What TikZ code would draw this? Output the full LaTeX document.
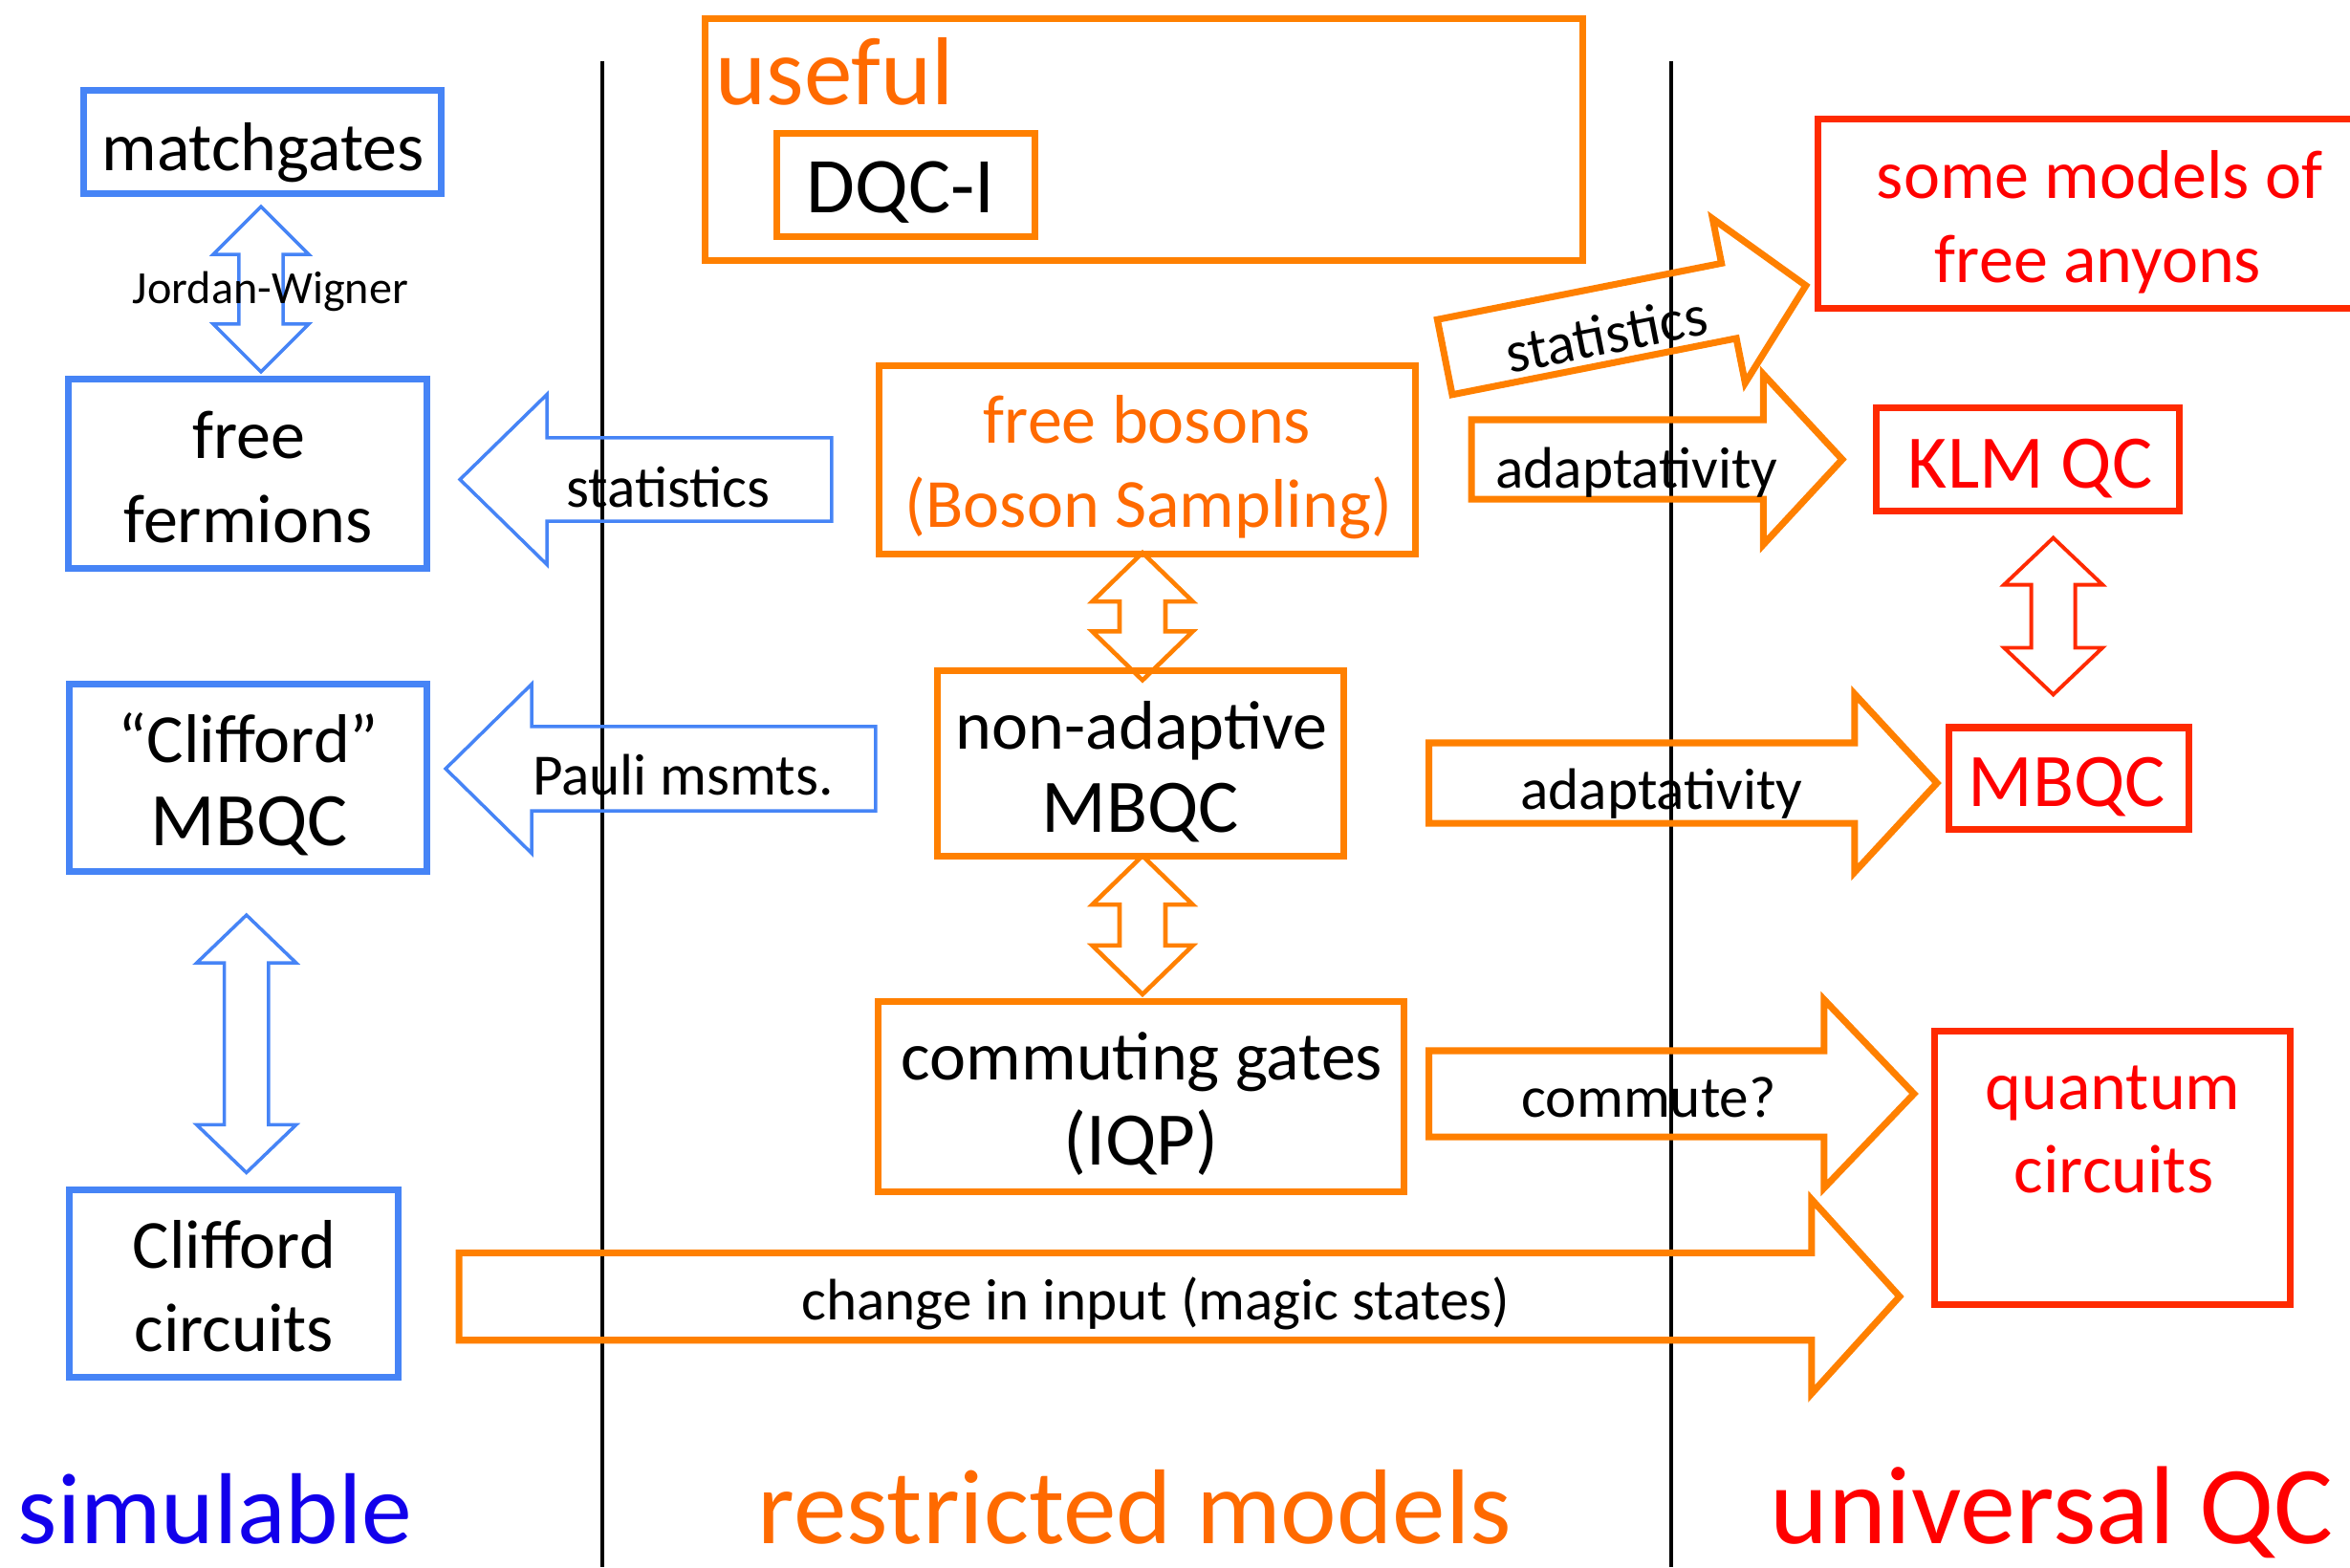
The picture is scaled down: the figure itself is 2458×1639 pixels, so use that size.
\documentclass[tikz,border=0pt]{standalone}
\usepackage{fontspec}
\setmainfont{Carlito}
\usetikzlibrary{calc}

\definecolor{boxblue}{RGB}{70,132,246}
\definecolor{boxorange}{RGB}{255,128,0}
\definecolor{txtorange}{RGB}{255,106,0}
\definecolor{boxred}{RGB}{255,42,0}
\definecolor{txtred}{RGB}{255,0,0}
\definecolor{simblue}{RGB}{18,0,235}

% Outlined block arrow: #1 style, #2 name, #3 tail, #4 tip,
% #5 half shaft width, #6 half head width, #7 head length
\newcommand{\singlearrow}[7]{%
  \coordinate (#2-hb) at ($(#4)!#7!(#3)$);
  \draw[#1] ($(#3)!#5!90:(#4)$) -- ($(#2-hb)!#5!90:(#4)$) -- ($(#2-hb)!#6!90:(#4)$) -- (#4)
    -- ($(#2-hb)!#6!-90:(#4)$) -- ($(#2-hb)!#5!-90:(#4)$) -- ($(#3)!#5!-90:(#4)$) -- cycle;
}
% Outlined double-headed block arrow between #3 and #4
\newcommand{\doublearrow}[7]{%
  \coordinate (#2-ha) at ($(#3)!#7!(#4)$);
  \coordinate (#2-hb) at ($(#4)!#7!(#3)$);
  \draw[#1] (#3) -- ($(#2-ha)!#6!90:(#4)$) -- ($(#2-ha)!#5!90:(#4)$) -- ($(#2-hb)!#5!90:(#4)$)
    -- ($(#2-hb)!#6!90:(#4)$) -- (#4) -- ($(#2-hb)!#6!-90:(#4)$) -- ($(#2-hb)!#5!-90:(#4)$)
    -- ($(#2-ha)!#5!-90:(#4)$) -- ($(#2-ha)!#6!-90:(#4)$) -- cycle;
}

\begin{document}
\begin{tikzpicture}[x=0.01cm, y=-0.01cm,
  box/.style={draw=#1, line width=2pt, rectangle, inner sep=0pt, outer sep=0pt},
  divider/.style={draw=black, line width=1.15pt},
  thinblue/.style={draw=boxblue, line width=1pt},
  thinorange/.style={draw=boxorange, line width=1.3pt},
  thinred/.style={draw=boxred, line width=1.1pt},
  thickorange/.style={draw=boxorange, line width=2pt},
  txt/.style={inner sep=0pt, outer sep=0pt, anchor=base},
  body/.style={txt, font=\fontsize{20.5}{24}\selectfont},
  caps/.style={txt, font=\fontsize{22.5}{24}\selectfont},
  lab/.style={txt, font=\fontsize{17.4}{20}\selectfont},
  small/.style={txt, font=\fontsize{13.7}{16}\selectfont}]

\useasboundingbox (0,0) rectangle (2458,1639);
\clip (0,0) rectangle (2458,1639);

% column separators
\coordinate (sepL-top) at (630,64);
\coordinate (sepL-bot) at (630,1639);
\coordinate (sepR-top) at (1748,64);
\coordinate (sepR-bot) at (1748,1639);
\draw[divider] (sepL-top) -- (sepL-bot);
\draw[divider] (sepR-top) -- (sepR-bot);

% simulable column
\node[box=boxblue, minimum width=3.73cm, minimum height=1.07cm] (mg) at (274.5,148.5) {};
\node[box=boxblue, minimum width=3.745cm, minimum height=1.97cm] (ff) at (259.25,495.5) {};
\node[box=boxblue, minimum width=3.735cm, minimum height=1.95cm] (cm) at (259.75,813.5) {};
\node[box=boxblue, minimum width=3.43cm, minimum height=1.95cm] (cc) at (244.5,1342.5) {};

% restricted models column
\node[box=boxorange, minimum width=9.175cm, minimum height=2.525cm] (useful) at (1196.75,146.25) {};
\node[box=boxorange, minimum width=2.69cm, minimum height=1.07cm] (dqc) at (947.5,193.5) {};
\node[box=boxorange, minimum width=5.6cm, minimum height=1.96cm] (fb) at (1200,481) {};
\node[box=boxorange, minimum width=4.245cm, minimum height=1.94cm] (na) at (1192.75,798.5) {};
\node[box=boxorange, minimum width=5.49cm, minimum height=1.98cm] (cg) at (1193.5,1147) {};

% universal column
\node[box=boxred, minimum width=5.98cm, minimum height=1.97cm] (any) at (2201,223.5) {};
\node[box=boxred, minimum width=3.166cm, minimum height=1.077cm] (klm) at (2121.3,480.85) {};
\node[box=boxred, minimum width=2.504cm, minimum height=1.06cm] (mbqc) at (2163.8,814) {};
\node[box=boxred, minimum width=3.716cm, minimum height=2.85cm] (qc) at (2209.8,1221.5) {};

% arrow end points
\coordinate (jwA) at ($(mg.south)+(-1.5,14)$);
\coordinate (jwB) at ($(jwA |- ff.north)+(0,-8)$);
\coordinate (stL-tail) at ($(fb.west)+(-50,20.5)$);
\coordinate (stL-tip) at ($(stL-tail -| ff.east)+(34.5,0)$);
\coordinate (pa-tail) at ($(na.west)+(-64.5,5.5)$);
\coordinate (pa-tip) at ($(pa-tail -| cm.east)+(19.5,0)$);
\coordinate (clA) at ($(cm.south)+(-2,46)$);
\coordinate (clB) at ($(clA |- cc.north)+(0,-18.5)$);
\coordinate (bnA) at ($(fb.south)+(-5,-1)$);
\coordinate (bnB) at ($(bnA |- na.north)+(0,10)$);
\coordinate (ncA) at ($(na.south)+(2.25,-0.5)$);
\coordinate (ncB) at ($(ncA |- cg.north)+(0,-8)$);
\coordinate (kmA) at ($(klm.south)+(26.3,27.8)$);
\coordinate (kmB) at ($(kmA |- mbqc.north)+(0,-34.5)$);
\coordinate (stR-tail) at ($(fb.east)+(31,-107.5)$);
\coordinate (stR-tip) at ($(any.west)+(-13,75.2)$);
\coordinate (adT-tail) at ($(fb.east)+(59,-0.5)$);
\coordinate (adT-tip) at ($(adT-tail -| klm.west)+(-36,0)$);
\coordinate (adM-tail) at ($(na.east)+(89.5,20.5)$);
\coordinate (adM-tip) at ($(adM-tail -| mbqc.west)+(-12.6,0)$);
\coordinate (co-tail) at ($(cg.east)+(26.5,-3)$);
\coordinate (co-tip) at ($(co-tail -| qc.west)+(-22,0)$);
\coordinate (ch-tail) at ($(cc.east)+(64,13.5)$);
\coordinate (ch-tip) at ($(ch-tail -| qc.west)+(-37,0)$);

% block arrows
\doublearrow{thinblue}{jw}{jwA}{jwB}{0.23cm}{0.50cm}{0.50cm}
\singlearrow{thinblue}{stL}{stL-tail}{stL-tip}{0.435cm}{0.89cm}{0.91cm}
\singlearrow{thinblue}{pa}{pa-tail}{pa-tip}{0.44cm}{0.885cm}{0.90cm}
\doublearrow{thinblue}{cl}{clA}{clB}{0.23cm}{0.52cm}{0.50cm}
\doublearrow{thinorange}{bn}{bnA}{bnB}{0.24cm}{0.525cm}{0.51cm}
\doublearrow{thinorange}{nc}{ncA}{ncB}{0.24cm}{0.525cm}{0.51cm}
\doublearrow{thinred}{km}{kmA}{kmB}{0.23cm}{0.515cm}{0.49cm}
\singlearrow{thickorange}{stR}{stR-tail}{stR-tip}{0.40cm}{0.875cm}{0.82cm}
\singlearrow{thickorange}{adT}{adT-tail}{adT-tip}{0.415cm}{0.89cm}{0.825cm}
\singlearrow{thickorange}{adM}{adM-tail}{adM-tip}{0.42cm}{0.93cm}{0.86cm}
\singlearrow{thickorange}{co}{co-tail}{co-tip}{0.45cm}{0.985cm}{0.94cm}
\singlearrow{thickorange}{ch}{ch-tail}{ch-tip}{0.457cm}{1.015cm}{0.92cm}

% texts
\node[body] (mg-t) at (275,178) {matchgates};
\node[small] (jw-t) at (283,317) {Jordan-Wigner};
\node[body] (ff-t1) at (260.5,479) {free};
\node[body] (ff-t2) at (259.5,567) {fermions};
\node[lab] (stL-t) at (699,530) {statistics};
\node[txt, text=txtorange, font=\fontsize{28.7}{32}\selectfont] (useful-t) at (873,109) {useful};
\node[txt, font=\fontsize{23.5}{26}\selectfont] (dqc-t) at (942,222) {DQC-I};
\node[body, text=txtorange] (fb-t1) at (1200,463) {free bosons};
\node[body, text=txtorange] (fb-t2) at (1201.6,551.6) {(Boson Sampling)};
\node[lab, rotate=11.2] (stR-t) at (1684,370) {statistics};
\node[lab] (adT-t) at (1712,510.7) {adaptativity};
\node[body, text=txtred] (any-t1) at (2196,207) {some models of};
\node[body, text=txtred] (any-t2) at (2194.5,295) {free anyons};
\node[caps, text=txtred] (klm-t) at (2123.6,510) {KLM QC};
\node[body] (na-t1) at (1194,783) {non-adaptive};
\node[caps] (na-t2) at (1193,870) {MBQC};
\node[lab] (adM-t) at (1738,846) {adaptativity};
\node[caps, text=txtred] (mbqc-t) at (2162,843) {MBQC};
\node[body] (cm-t1) at (260,797) {“Clifford”};
\node[caps] (cm-t2) at (261,884.7) {MBQC};
\node[lab] (pa-t) at (714.5,831) {Pauli msmts.};
\node[body] (cg-t1) at (1194.5,1129) {commuting gates};
\node[caps] (cg-t2) at (1193.5,1218.5) {(IQP)};
\node[lab] (co-t) at (1724.6,1168) {commute?};
\node[body, text=txtred] (qc-t1) at (2210,1160) {quantum};
\node[body, text=txtred] (qc-t2) at (2211,1247) {circuits};
\node[body] (cc-t1) at (245,1326) {Clifford};
\node[body] (cc-t2) at (245,1413) {circuits};
\node[lab] (ch-t) at (1208.7,1380) {change in input (magic states)};

% column headings
\node[txt, text=simblue, font=\fontsize{30}{34}\selectfont] (h-sim) at (225,1614) {simulable};
\node[txt, text=txtorange, font=\fontsize{31.6}{34}\selectfont] (h-res) at (1187,1614) {restricted models};
\node[txt, text=txtred, font=\fontsize{33}{36}\selectfont] (h-uni) at (2146,1614) {universal QC};
\end{tikzpicture}
\end{document}
